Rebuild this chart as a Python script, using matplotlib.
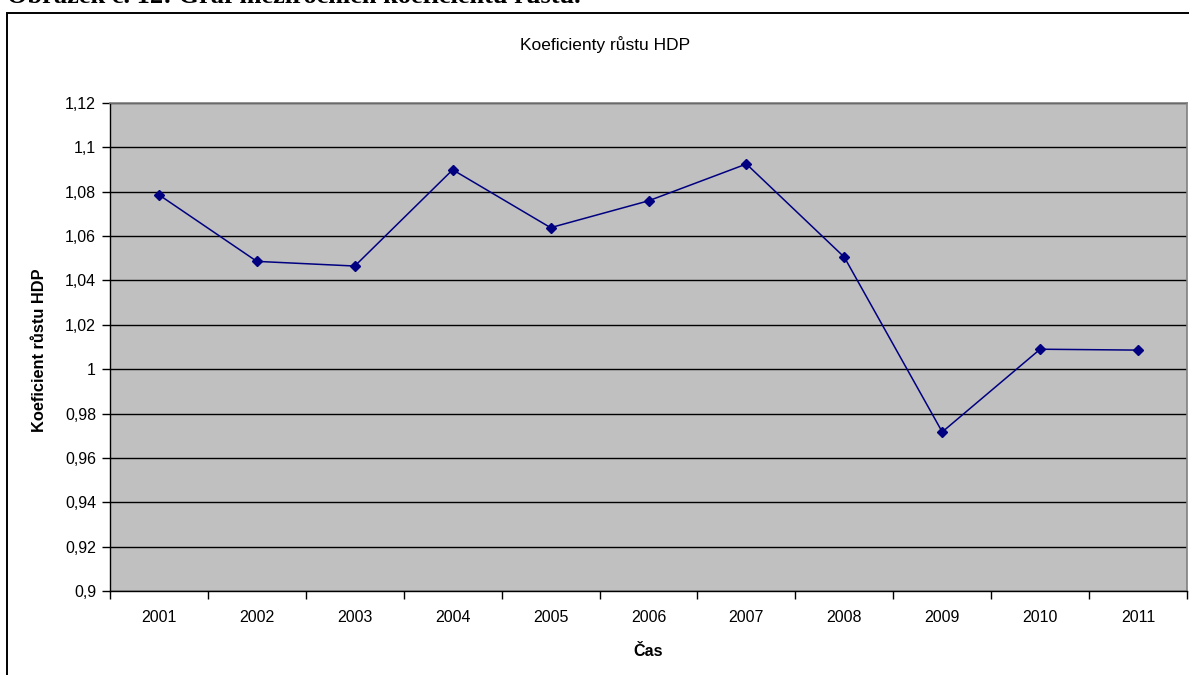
import numpy as np
import matplotlib
matplotlib.use("Agg")
import matplotlib.pyplot as plt
from matplotlib.patches import Rectangle
from matplotlib.ticker import FixedLocator, FuncFormatter

years = ["2001", "2002", "2003", "2004", "2005", "2006",
         "2007", "2008", "2009", "2010", "2011"]
growth = [1.0786, 1.0486, 1.0465, 1.0899, 1.0638, 1.0759,
          1.0925, 1.0505, 0.9717, 1.0090, 1.0086]
y_ticks = [0.90, 0.92, 0.94, 0.96, 0.98, 1.00, 1.02, 1.04, 1.06, 1.08, 1.10, 1.12]

W, H = 1189, 675
plt.rcParams["font.family"] = ["Liberation Sans", "DejaVu Sans"]
fig = plt.figure(figsize=(W / 100, H / 100), dpi=100)

# caption line above the chart frame (runs past the top edge of the page)
fig.text(7 / W, 1 - 3 / H, "Obrázek č. 12: Graf meziročních koeficientů růstu.",
         family=["Liberation Serif", "DejaVu Serif"], fontweight="bold",
         fontsize=19, ha="left", va="baseline")

# chart frame
fig.patches.append(Rectangle((7 / W, -0.05), 1.1, 1 - 13 / H + 0.05,
                             transform=fig.transFigure, fill=False,
                             edgecolor="black", linewidth=1.4, clip_on=False))

ax = fig.add_axes([110 / W, (H - 591) / H, (1187 - 110) / W, (591 - 103) / H])
ax.set_facecolor("#C0C0C0")

x = np.arange(len(years))
ax.plot(x, growth, color="#000080", linewidth=1.1, marker="D",
        markersize=5.5, markerfacecolor="#000080", markeredgecolor="#000080")

ax.set_xlim(-0.5, len(years) - 0.5)
ax.set_ylim(0.9, 1.12)
ax.yaxis.set_major_locator(FixedLocator(y_ticks))
ax.yaxis.set_major_formatter(FuncFormatter(lambda v, p: f"{v:g}".replace(".", ",")))
ax.grid(axis="y", color="black", linewidth=1.0)
ax.set_axisbelow(True)

ax.set_xticks(x)
ax.set_xticklabels(years)
ax.set_xticks(np.arange(len(years) + 1) - 0.5, minor=True)
ax.tick_params(axis="x", which="major", length=0, pad=14, labelsize=11.5)
ax.tick_params(axis="x", which="minor", length=6, width=1, direction="out")
ax.tick_params(axis="y", length=6, width=1, direction="out", labelsize=11.5, pad=4)

for side in ("left", "bottom"):
    ax.spines[side].set_color("black")
    ax.spines[side].set_linewidth(1.0)
for side in ("top", "right"):
    ax.spines[side].set_color("#808080")
    ax.spines[side].set_linewidth(1.2)

fig.text(605 / W, 1 - 45 / H, "Koeficienty růstu HDP", ha="center", va="center",
         fontsize=12.5)
fig.text(648 / W, 1 - 651 / H, "Čas", ha="center", va="center",
         fontsize=11.5, fontweight="bold")
fig.text(40 / W, 1 - 350 / H, "Koeficient růstu HDP", ha="center", va="center",
         rotation=90, fontsize=11.8, fontweight="bold")

fig.savefig("out.png", dpi=100)
